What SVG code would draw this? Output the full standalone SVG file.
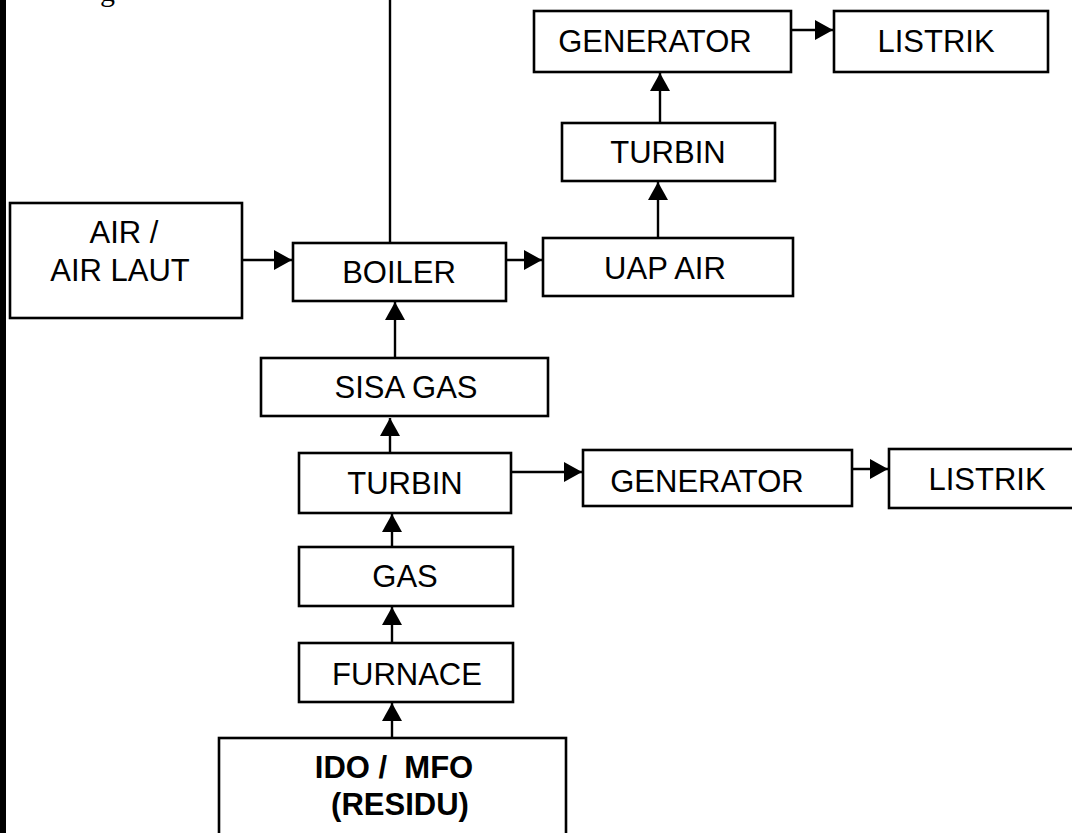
<svg xmlns="http://www.w3.org/2000/svg" width="1072" height="833" viewBox="0 0 1072 833">
<style>
.box{fill:#fff;stroke:#000;stroke-width:2.6}
.t{font-family:"Liberation Sans",Arial,sans-serif;font-size:31px;fill:#000;text-anchor:middle}
.b{font-weight:bold}
.c{stroke:#000;stroke-width:2.4;fill:none}
</style>
<defs>
<marker id="ah" markerWidth="19" markerHeight="20" refX="18" refY="10" orient="auto" markerUnits="userSpaceOnUse">
<path d="M0,0 L18,10 L0,20 z" fill="#000"/>
</marker>
</defs>
<rect x="0" y="0" width="1072" height="833" fill="#fff"/>
<rect x="0" y="0" width="6" height="833" fill="#000"/>
<text x="100" y="1" font-family="Liberation Serif,serif" font-size="30">g</text>

<g id="connectors">
<line class="c" x1="390" y1="0" x2="390" y2="243"/>
<line class="c" x1="235" y1="260" x2="292" y2="260" marker-end="url(#ah)"/>
<line class="c" x1="506" y1="260" x2="542" y2="260" marker-end="url(#ah)"/>
<line class="c" x1="658" y1="238" x2="658" y2="182" marker-end="url(#ah)"/>
<line class="c" x1="660" y1="123" x2="660" y2="73" marker-end="url(#ah)"/>
<line class="c" x1="791" y1="30" x2="833" y2="30" marker-end="url(#ah)"/>
<line class="c" x1="395" y1="358" x2="395" y2="302" marker-end="url(#ah)"/>
<line class="c" x1="390" y1="453" x2="390" y2="418" marker-end="url(#ah)"/>
<line class="c" x1="512" y1="472" x2="582" y2="472" marker-end="url(#ah)"/>
<line class="c" x1="852" y1="469" x2="888" y2="469" marker-end="url(#ah)"/>
<line class="c" x1="392" y1="547" x2="392" y2="514" marker-end="url(#ah)"/>
<line class="c" x1="392" y1="643" x2="392" y2="607" marker-end="url(#ah)"/>
<line class="c" x1="392" y1="738" x2="392" y2="703" marker-end="url(#ah)"/>
</g>

<g id="generator-top"><rect class="box" x="534" y="11" width="257" height="61"/><text class="t" x="655" y="52">GENERATOR</text></g>
<g id="listrik-top"><rect class="box" x="834" y="11" width="214" height="61"/><text class="t" x="936" y="52">LISTRIK</text></g>
<g id="turbin-top"><rect class="box" x="562" y="123" width="213" height="58"/><text class="t" x="668" y="163">TURBIN</text></g>
<g id="air"><rect class="box" x="10" y="203" width="232" height="115"/><text class="t" x="124" y="243">AIR /</text><text class="t" x="120" y="281">AIR LAUT</text></g>
<g id="boiler"><rect class="box" x="293" y="243" width="213" height="58"/><text class="t" x="399" y="283">BOILER</text></g>
<g id="uap-air"><rect class="box" x="543" y="238" width="250" height="58"/><text class="t" x="665" y="279">UAP AIR</text></g>
<g id="sisa-gas"><rect class="box" x="261" y="358" width="287" height="58"/><text class="t" x="406" y="398">SISA GAS</text></g>
<g id="turbin"><rect class="box" x="299" y="453" width="212" height="60"/><text class="t" x="405" y="494">TURBIN</text></g>
<g id="generator"><rect class="box" x="583" y="450" width="269" height="56"/><text class="t" x="707" y="492">GENERATOR</text></g>
<g id="listrik"><rect class="box" x="889" y="449" width="196" height="59"/><text class="t" x="987" y="490">LISTRIK</text></g>
<g id="gas"><rect class="box" x="299" y="547" width="214" height="59"/><text class="t" x="405" y="587">GAS</text></g>
<g id="furnace"><rect class="box" x="299" y="643" width="214" height="59"/><text class="t" x="407" y="685">FURNACE</text></g>
<g id="ido"><rect class="box" x="219" y="738" width="347" height="110"/><text class="t b" x="394" y="778" xml:space="preserve">IDO /  MFO</text><text class="t b" x="400" y="815">(RESIDU)</text></g>
</svg>
